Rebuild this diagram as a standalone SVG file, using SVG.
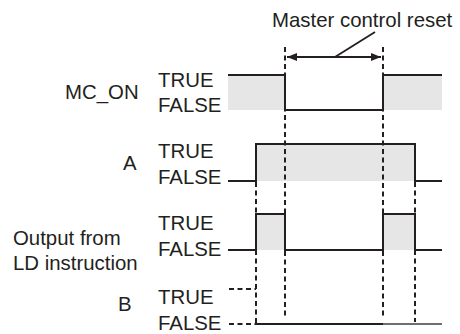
<svg xmlns="http://www.w3.org/2000/svg" width="460" height="334" viewBox="0 0 460 334">
<style>
text{font-family:"Liberation Sans",Arial,sans-serif;font-size:20.4px;fill:#231f20}
.w{fill:none;stroke:#231f20;stroke-width:2}
.d{fill:none;stroke:#231f20;stroke-width:2;stroke-dasharray:5 3.5}
.g{fill:#e6e6e7;stroke:none}
</style>
<defs>
<marker id="ah" viewBox="0 0 10 8" refX="10" refY="4" markerWidth="10" markerHeight="8" markerUnits="userSpaceOnUse" orient="auto-start-reverse">
<path d="M0,0 L10,4 L0,8 Z" fill="#231f20"/>
</marker>
</defs>
<rect width="460" height="334" fill="#fff"/>
<g id="fills">
<rect class="g" x="228" y="75" width="57" height="35"/>
<rect class="g" x="383" y="75" width="59" height="35"/>
<rect class="g" x="256" y="144" width="159" height="37"/>
<rect class="g" x="256" y="214" width="29" height="36"/>
<rect class="g" x="383" y="214" width="32" height="36"/>
</g>
<g id="connectors">
<line class="d" x1="285" y1="47" x2="285" y2="318"/>
<line class="d" x1="383" y1="47" x2="383" y2="318"/>
<line class="d" x1="256" y1="182" x2="256" y2="325"/>
<line class="d" x1="415" y1="182" x2="415" y2="322"/>
<line x1="287" y1="57" x2="381" y2="57" stroke="#231f20" stroke-width="1.8" marker-start="url(#ah)" marker-end="url(#ah)"/>
<line x1="335" y1="57" x2="375" y2="32" stroke="#231f20" stroke-width="1.8"/>
</g>
<g id="label-reset"><text x="272" y="27">Master control reset</text></g>
<g id="mc_on">
<text x="65" y="99">MC_ON</text>
<text x="158" y="87">TRUE</text>
<text x="158" y="112">FALSE</text>
<polyline class="w" points="228,75 285,75 285,110 383,110 383,75 442,75"/>
</g>
<g id="a">
<text x="123" y="170">A</text>
<text x="158" y="158">TRUE</text>
<text x="158" y="184">FALSE</text>
<polyline class="w" points="228,181 256,181 256,144 415,144 415,181 442,181"/>
</g>
<g id="ld">
<text x="13" y="245">Output from</text>
<text x="13" y="270">LD instruction</text>
<text x="158" y="230">TRUE</text>
<text x="158" y="256">FALSE</text>
<polyline class="w" points="228,250 256,250 256,214 285,214 285,250 383,250 383,214 415,214 415,250 442,250"/>
</g>
<g id="b">
<text x="118" y="311">B</text>
<text x="158" y="304">TRUE</text>
<text x="158" y="330">FALSE</text>
<line class="d" x1="229" y1="289" x2="256" y2="289"/>
<line class="d" x1="229" y1="324" x2="256" y2="324"/>
<line class="w" x1="256" y1="324" x2="383" y2="324"/>
<line x1="383" y1="324" x2="442" y2="324" stroke="#6e6e6e" stroke-width="2"/>
</g>
</svg>
